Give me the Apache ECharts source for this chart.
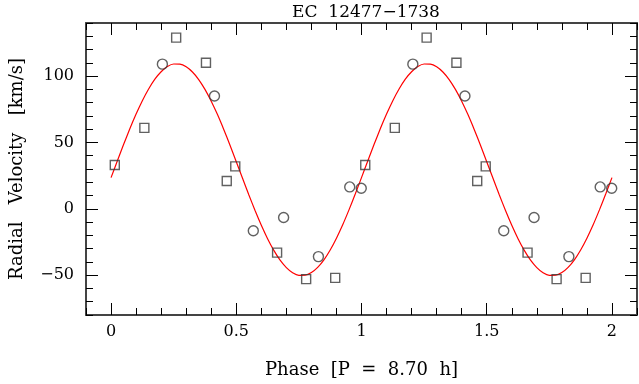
<!DOCTYPE html>
<html lang="en">
<head>
    <meta charset="UTF-8">
    <title>EC 12477-1738</title>
    <script src="https://cdn.jsdelivr.net/npm/echarts@6/dist/echarts.min.js"></script>
    <style>
        html, body { margin: 0; padding: 0; background: #fff; }
    </style>
</head>
<body>
<div id="rvChart" style="width: 639px; height: 384px"></div>
<script type="text/javascript">
    // measured radial velocities, one orbital cycle (plotted twice)
    var squarePhase = [0.015, 0.133, 0.260, 0.379, 0.462, 0.496, 0.663, 0.779, 0.895];
    var squareVel   = [33, 61, 129, 110, 21, 32, -33, -53, -52];
    var circlePhase = [0.205, 0.413, 0.568, 0.689, 0.828, 0.953, 0.999];
    var circleVel   = [109, 85, -16.5, -6.5, -36, 16.5, 15.5];

    // fitted curve, every 0.025 in phase
    var curvePhase = [0, 0.025, 0.05, 0.075, 0.1, 0.125, 0.15, 0.175, 0.2, 0.225,
                      0.25, 0.275, 0.3, 0.325, 0.35, 0.375, 0.4, 0.425, 0.45, 0.475,
                      0.5, 0.525, 0.55, 0.575, 0.6, 0.625, 0.65, 0.675, 0.7, 0.725,
                      0.75, 0.775, 0.8, 0.825, 0.85, 0.875, 0.9, 0.925, 0.95, 0.975];
    var curveVel   = [23.5, 36, 48.4, 60.3, 71.4, 81.5, 90.3, 97.7, 103.3, 107.2,
                      109.1, 109, 107, 103.1, 97.4, 90, 81.1, 71, 59.8, 47.9,
                      35.5, 23, 10.6, -1.3, -12.4, -22.5, -31.3, -38.7, -44.3, -48.2,
                      -50.1, -50, -48, -44.1, -38.4, -31, -22.1, -12, -0.8, 11.1];

    // tick values
    var xMajor = [0, 0.5, 1, 1.5, 2];
    var xMinor = [-0.1, 0.1, 0.2, 0.3, 0.4, 0.6, 0.7, 0.8, 0.9, 1.1, 1.2, 1.3, 1.4,
                  1.6, 1.7, 1.8, 1.9, 2.1];
    var yMajor = [-50, 0, 50, 100];
    var yMinor = [-80, -70, -60, -40, -30, -20, -10, 10, 20, 30, 40, 60, 70, 80, 90,
                  110, 120, 130, 140];

    function twoCycles(ph, v) {
        var out = [];
        for (var c = 0; c < 2; c++) {
            for (var i = 0; i < ph.length; i++) out.push([ph[i] + c, v[i]]);
        }
        return out;
    }

    var curveData = twoCycles(curvePhase, curveVel);
    curveData.push([2, curveVel[0]]);

    var font = 'DejaVu Serif';
    var frame = { show: true, onZero: false, lineStyle: { color: '#444', width: 2 } };
    var noLine = { show: false, onZero: false };

    function xAx(pos, ticks, len, withLabel, line) {
        return {
            type: 'value', position: pos, min: -0.1, max: 2.1,
            axisLine: line ? frame : noLine,
            splitLine: { show: false },
            axisTick: { show: true, inside: true, length: len, customValues: ticks,
                        lineStyle: { color: '#000', width: 1 } },
            axisLabel: withLabel ? {
                show: true, customValues: ticks, margin: 9,
                fontFamily: font, fontSize: 16, color: '#000'
            } : { show: false }
        };
    }
    function yAx(pos, ticks, len, withLabel, line) {
        return {
            type: 'value', position: pos, min: -80, max: 140,
            axisLine: line ? frame : noLine,
            splitLine: { show: false },
            axisTick: { show: true, inside: true, length: len, customValues: ticks,
                        lineStyle: { color: '#000', width: 1 } },
            axisLabel: withLabel ? {
                show: true, customValues: ticks, margin: 12,
                fontFamily: font, fontSize: 16, color: '#000',
                formatter: function (v) { return String(v).replace('-', '\u2212'); }
            } : { show: false }
        };
    }

    var xMain = xAx('bottom', xMajor, 12, true, true);
    xMain.name = 'Phase  [P  =  8.70  h]';
    xMain.nameLocation = 'middle';
    xMain.nameGap = 46;
    xMain.nameTextStyle = { fontFamily: font, fontSize: 18, color: '#000' };

    var yMain = yAx('left', yMajor, 12, true, true);
    yMain.name = 'Radial   Velocity   [km/s]';
    yMain.nameLocation = 'middle';
    yMain.nameGap = 60;
    yMain.nameTextStyle = { fontFamily: font, fontSize: 18, color: '#000' };

    var markerStyle = { color: 'rgba(0,0,0,0)', borderColor: '#3a3a3a', borderWidth: 1.4 };

    var option = {
        animation: false,
        backgroundColor: '#fff',
        title: {
            text: 'EC  12477\u22121738',
            left: 361, top: -1, textAlign: 'center',
            textStyle: { fontFamily: font, fontSize: 17, fontWeight: 'normal', color: '#000' }
        },
        grid: { left: 82, right: 2, top: 23, bottom: 68 },
        xAxis: [
            xMain,
            xAx('bottom', xMinor, 7, false, false),
            xAx('top', xMajor, 12, false, true),
            xAx('top', xMinor, 7, false, false)
        ],
        yAxis: [
            yMain,
            yAx('left', yMinor, 7, false, false),
            yAx('right', yMajor, 12, false, true),
            yAx('right', yMinor, 7, false, false)
        ],
        series: [
            {
                type: 'line', xAxisIndex: 0, yAxisIndex: 0,
                data: curveData, smooth: 0.2, showSymbol: false,
                lineStyle: { color: '#ff0000', width: 1.2 }, z: 2
            },
            {
                type: 'scatter', xAxisIndex: 0, yAxisIndex: 0,
                data: twoCycles(squarePhase, squareVel),
                symbol: 'rect', symbolSize: 9, itemStyle: markerStyle, z: 3
            },
            {
                type: 'scatter', xAxisIndex: 0, yAxisIndex: 0,
                data: twoCycles(circlePhase, circleVel),
                symbol: 'circle', symbolSize: 10, itemStyle: markerStyle, z: 3
            }
        ]
    };

    var chart = echarts.init(document.getElementById('rvChart'));
    chart.setOption(option);
</script>
</body>
</html>
